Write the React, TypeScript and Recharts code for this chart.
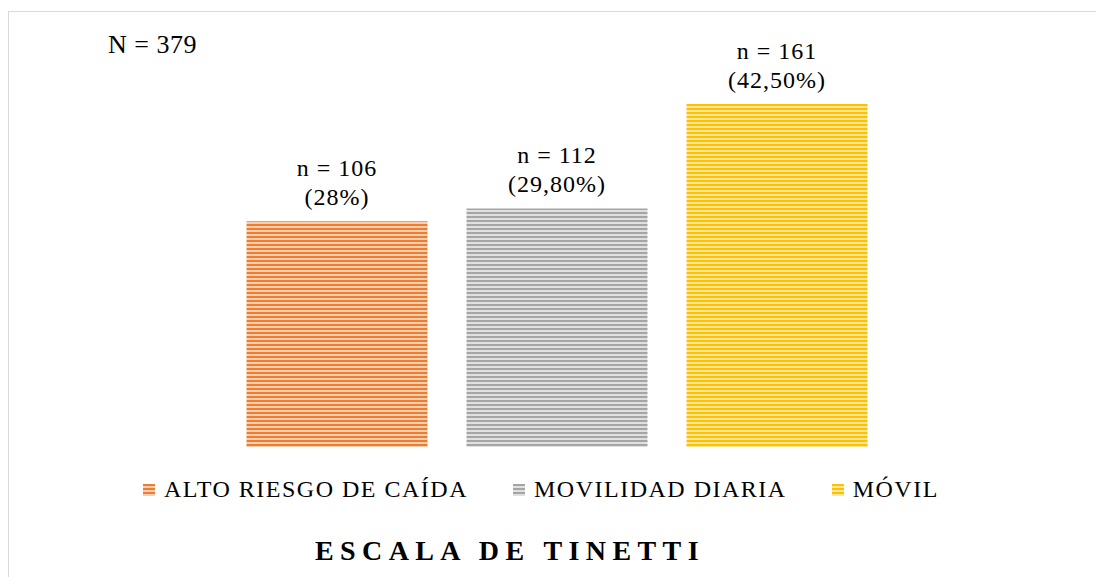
import React from 'react'
import { BarChart, Bar, XAxis, YAxis, Cell, LabelList } from 'recharts'

const categories = ['ALTO RIESGO DE CAÍDA', 'MOVILIDAD DIARIA', 'MÓVIL']
const counts = [106, 112, 161]
const percents = ['28%', '29,80%', '42,50%']
const totalN = 379
const title = 'ESCALA DE TINETTI'

const dark = ['#ED7D31', '#A5A5A5', '#FFC000']
const light = ['#F9CFB0', '#E0E0E0', '#FFE699']

const data = categories.map((name, i) => ({ name, value: counts[i], pct: percents[i] }))

const serif = '"Times New Roman", "Liberation Serif", serif'

const BarLabel = (props: any) => {
    const { x, y, width, index } = props
    const cx = x + width / 2
    return (
        <g>
            <text x={cx} y={y - 53} textAnchor="middle" dominantBaseline="central"
                fontFamily={serif} fontSize={24} letterSpacing={1} fill="#000">
                {`n = ${counts[index]}`}
            </text>
            <text x={cx} y={y - 24} textAnchor="middle" dominantBaseline="central"
                fontFamily={serif} fontSize={24} letterSpacing={1} fill="#000">
                {`(${percents[index]})`}
            </text>
        </g>
    )
}

const LegendBox = () => (
    <div style={{ display: 'flex', alignItems: 'center', fontFamily: serif, fontSize: 24, letterSpacing: 1.5, color: '#000' }}>
        {categories.map((c, i) => (
            <div key={c} style={{ display: 'flex', alignItems: 'center', marginRight: 45 }}>
                <div style={{
                    width: 12, height: 12, marginRight: 9,
                    background: `repeating-linear-gradient(to bottom, ${dark[i]} 0px, ${dark[i]} 2px, ${light[i]} 2px, ${light[i]} 4px)`
                }} />
                <span>{c}</span>
            </div>
        ))}
    </div>
)

export default function App() {
    return (
        <div style={{ position: 'relative', width: 1096, height: 569, overflow: 'hidden' }}>
            <div style={{
                position: 'absolute', left: 0, top: 3, width: 1096, height: 566,
                borderLeft: '1.5px solid #d9d9d9', borderTop: '1.5px solid #d9d9d9', boxSizing: 'border-box'
            }} />
            <BarChart width={1096} height={569} data={data}
                margin={{ top: 55.5, right: 217.5, bottom: 130, left: 218.5 }}>
                <defs>
                    {dark.map((d, i) => (
                        <pattern key={i} id={`stripe-${i}`} width={4} height={4} patternUnits="userSpaceOnUse">
                            <rect x={0} y={0} width={4} height={4} fill={light[i]} />
                            <rect x={0} y={0} width={4} height={2} fill={d} />
                        </pattern>
                    ))}
                </defs>
                <XAxis dataKey="name" hide />
                <YAxis hide domain={[0, 180]} />
                <Bar dataKey="value" barSize={181} isAnimationActive={false}>
                    {data.map((d, i) => (
                        <Cell key={d.name} fill={`url(#stripe-${i})`} />
                    ))}
                    <LabelList dataKey="value" content={<BarLabel />} />
                </Bar>
            </BarChart>
            <div style={{ position: 'absolute', left: 135, top: 468 }}>
                <LegendBox />
            </div>
            <div style={{ position: 'absolute', left: 100, top: 22, fontFamily: serif, fontSize: 26, letterSpacing: 0.5, lineHeight: '30px' }}>
                {`N = ${totalN}`}
            </div>
            <div style={{ position: 'absolute', left: 307, top: 526, fontFamily: serif, fontSize: 28, fontWeight: 'bold', letterSpacing: 6.4, lineHeight: '34px' }}>
                {title}
            </div>
        </div>
    )
}
